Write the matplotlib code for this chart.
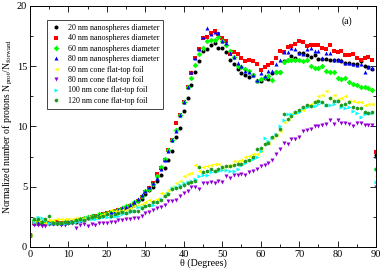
import matplotlib
matplotlib.use("Agg")
import matplotlib.pyplot as plt
from matplotlib.ticker import MultipleLocator

plt.rcParams['font.family'] = ['Liberation Serif', 'DejaVu Serif']
plt.rcParams['mathtext.fontset'] = 'stix'

theta = list(range(0, 91))

s20 = [1.0,
       1.95, 2.0, 1.9, 1.95, 2.0, 2.05, 2.0, 2.0, 2.0, 2.05,
       2.1, 2.1, 2.2, 2.3, 2.4, 2.5, 2.6, 2.6, 2.7, 2.8,
       2.9, 2.9, 3.0, 3.1, 3.2, 3.3, 3.5, 3.8, 4.0, 4.4,
       4.7, 4.95, 5.45, 6.0, 6.55, 7.25, 8.0, 9.1, 9.85, 11.25,
       12.35, 13.45, 14.5, 15.45, 16.25, 16.45, 16.75, 16.9, 16.55, 16.55,
       16.15, 15.5, 15.2, 14.8, 14.4, 14.3, 14.1, 14.3, 13.8, 13.8,
       14.0, 13.95, 14.45, 14.5, 14.55, 15.4, 15.5, 15.85, 15.7, 16.1,
       16.1, 15.95, 15.8, 15.95, 15.6, 15.6, 15.6, 15.55, 15.5, 15.5,
       15.4, 15.3, 15.25, 15.2, 15.2, 15.4, 15.0, 14.9, 14.8, 7.6]

s40 = [1.0,
       2.0, 2.05, 1.95, 1.9, 1.95, 2.0, 2.05, 2.0, 2.0, 2.1,
       2.1, 2.15, 2.2, 2.3, 2.4, 2.5, 2.55, 2.6, 2.7, 2.8,
       2.9, 3.0, 3.05, 3.15, 3.25, 3.4, 3.6, 3.85, 4.15, 4.55,
       4.85, 5.3, 6.05, 6.55, 7.25, 8.05, 8.85, 10.25, 10.95, 12.0,
       13.3, 14.4, 15.7, 16.4, 17.3, 17.4, 17.75, 17.9, 17.65, 17.35,
       17.1, 16.05, 16.2, 16.05, 15.65, 15.45, 15.5, 15.4, 15.2, 14.7,
       14.9, 15.1, 15.25, 15.65, 16.3, 16.2, 16.6, 16.7, 16.85, 17.05,
       17.0, 16.7, 16.8, 16.75, 16.8, 16.5, 16.45, 16.75, 16.3, 16.2,
       16.3, 15.9, 15.95, 16.0, 15.7, 15.55, 15.65, 15.75, 15.55, 7.9]

s60 = [1.0,
       2.2, 2.0, 2.05, 2.0, 1.95, 2.1, 2.0, 2.0, 2.05, 2.1,
       2.1, 2.2, 2.3, 2.4, 2.5, 2.55, 2.6, 2.7, 2.75, 2.85,
       2.9, 3.0, 3.1, 3.25, 3.4, 3.5, 3.7, 3.9, 4.25, 4.65,
       4.8, 5.2, 5.9, 6.65, 7.3, 8.05, 8.85, 9.7, 10.95, 12.0,
       13.3, 14.05, 15.1, 16.05, 16.55, 17.1, 17.2, 17.2, 17.4, 17.05,
       16.8, 16.3, 15.8, 15.0, 14.9, 14.75, 14.6, 14.3, 13.8, 13.9,
       14.1, 14.2, 13.85, 14.5, 14.55, 15.35, 15.55, 15.5, 15.5, 15.5,
       15.4, 15.55, 15.0, 14.85, 14.85, 15.0, 14.6, 14.5, 14.5, 14.0,
       13.95, 14.0, 13.7, 13.55, 13.45, 13.3, 13.3, 13.2, 13.05, 6.5]

s80 = [1.0,
       2.0, 2.0, 2.1, 2.0, 2.1, 2.0, 2.1, 2.0, 2.1, 2.1,
       2.15, 2.2, 2.25, 2.3, 2.45, 2.5, 2.6, 2.65, 2.7, 2.8,
       2.9, 3.0, 3.1, 3.2, 3.3, 3.45, 3.7, 3.95, 4.3, 4.6,
       5.0, 5.3, 5.7, 6.5, 7.25, 8.0, 8.85, 9.65, 10.95, 12.0,
       13.25, 14.5, 15.7, 16.45, 17.4, 18.2, 17.7, 17.85, 17.75, 17.1,
       16.9, 16.1, 15.75, 15.3, 15.0, 14.6, 14.5, 14.3, 13.85, 14.45,
       14.2, 14.6, 14.6, 15.2, 15.5, 16.2, 16.2, 16.5, 16.4, 16.1,
       16.05, 16.4, 16.55, 16.3, 16.3, 15.7, 16.1, 16.1, 15.5, 15.5,
       15.5, 15.3, 15.25, 15.15, 15.1, 15.2, 14.55, 14.9, 14.85, 7.55]

c60 = [1.0,
       2.1, 2.2, 2.1, 2.0, 2.2, 2.2, 2.3, 2.35, 2.3, 2.3,
       2.3, 2.4, 2.3, 2.4, 2.5, 2.5, 2.5, 2.6, 2.7, 2.8,
       3.1, 3.0, 3.0, 3.1, 3.1, 3.2, 3.4, 3.5, 3.6, 3.7,
       3.9, 3.8, 4.0, 4.45, 4.45, 4.7, 5.0, 5.3, 5.5, 5.9,
       6.05, 6.1, 6.8, 6.3, 6.6, 6.75, 6.8, 6.85, 6.9, 6.5,
       6.7, 6.8, 7.1, 7.15, 7.2, 7.5, 7.55, 7.7, 7.75, 8.0,
       8.6, 8.6, 9.0, 9.25, 9.6, 10.4, 10.6, 11.0, 11.1, 11.3,
       11.4, 11.7, 11.9, 12.1, 12.5, 12.6, 12.9, 12.4, 12.6, 12.3,
       12.4, 12.5, 12.1, 12.1, 12.0, 12.0, 11.8, 11.9, 11.9, 5.9]

c80 = [1.0,
       1.85, 1.8, 1.7, 1.7, 1.9, 1.9, 1.9, 1.8, 1.85, 2.0,
       2.0, 1.6, 1.8, 1.9, 1.7, 1.9, 1.8, 1.95, 2.0, 2.0,
       2.05, 2.1, 2.2, 2.25, 2.3, 2.35, 2.4, 2.4, 2.6, 2.8,
       2.9, 3.1, 3.2, 3.3, 3.5, 3.8, 3.85, 3.9, 4.2, 4.5,
       4.6, 4.95, 4.95, 4.8, 5.3, 5.3, 5.35, 5.3, 5.5, 5.35,
       5.9, 5.7, 6.0, 6.0, 6.05, 5.95, 6.2, 6.3, 6.5, 6.7,
       6.8, 7.0, 7.2, 7.7, 8.1, 8.6, 8.5, 8.95, 8.95, 9.1,
       9.6, 9.7, 9.8, 10.05, 10.0, 10.15, 10.2, 10.5, 10.2, 10.55,
       10.3, 10.3, 10.2, 10.0, 10.25, 10.3, 10.1, 10.1, 10.1, 5.0]

c100 = [1.0,
        2.1, 2.5, 2.4, 2.2, 2.0, 2.0, 2.0, 2.0, 1.95, 2.0,
        2.05, 2.1, 2.15, 2.2, 2.5, 2.3, 2.35, 2.4, 2.45, 2.5,
        2.5, 2.6, 2.6, 2.7, 2.8, 2.9, 3.0, 3.3, 3.3, 3.4,
        3.45, 3.5, 3.7, 4.0, 4.2, 4.5, 4.9, 4.95, 5.1, 5.3,
        5.4, 5.5, 5.6, 5.9, 6.0, 6.0, 6.2, 6.3, 6.3, 6.35,
        6.4, 6.3, 6.3, 6.45, 6.8, 7.0, 7.2, 7.3, 7.5, 7.95,
        9.0, 8.8, 9.0, 9.4, 10.0, 10.5, 11.0, 11.0, 11.1, 11.2,
        11.5, 11.6, 11.7, 11.7, 11.9, 12.0, 11.8, 11.8, 11.9, 12.1,
        11.6, 11.5, 11.6, 11.3, 11.1, 10.8, 11.0, 11.1, 11.1, 5.4]

c120 = [1.0,
        2.3, 2.3, 2.1, 2.3, 2.6, 2.0, 2.0, 2.0, 2.05, 2.0,
        2.1, 2.2, 2.3, 2.2, 2.4, 2.5, 2.6, 2.5, 2.6, 2.7,
        2.6, 2.7, 2.8, 2.9, 2.8, 3.0, 3.0, 3.0, 3.2, 3.4,
        3.5, 3.7, 3.7, 3.9, 4.2, 4.4, 4.8, 4.85, 4.95, 5.1,
        5.3, 5.4, 5.5, 6.6, 6.2, 6.3, 6.5, 6.3, 6.5, 6.6,
        6.7, 6.7, 6.8, 6.85, 6.9, 7.1, 7.2, 7.5, 8.1, 8.2,
        8.5, 8.6, 9.1, 9.3, 9.8, 11.0, 10.6, 10.9, 11.2, 11.4,
        11.6, 11.8, 11.7, 12.0, 12.1, 12.0, 11.8, 12.4, 12.1, 12.1,
        11.75, 11.9, 12.0, 11.65, 11.5, 11.5, 11.2, 11.1, 11.2, 6.5]

labels = ["20 nm nanospheres diameter", "40 nm nanospheres diameter",
          "60 nm nanospheres diameter", "80 nm nanospheres diameter",
          "60 nm cone flat-top foil", "80 nm cone flat-top foil",
          "100 nm cone flat-top foil", "120 nm cone flat-top foil"]
series = [s20, s40, s60, s80, c60, c80, c100, c120]
colors = ['black', '#ff0000', '#00ff00', '#0000ff', '#ffff00', '#9400d3', '#00ffff', '#229922']
markers = ['o', 's', 'D', '^', '<', 'v', '>', 'h']

fig = plt.figure(figsize=(3.82, 2.71), dpi=100)
ax = fig.add_axes([0.0785, 0.089, 0.906, 0.889])

for y, lab, c, m in zip(series, labels, colors, markers):
    ax.plot(theta, y, linestyle='none', marker=m, color=c, markersize=2.9,
            markeredgewidth=0, label=lab)

ax.set_xlim(0, 90)
ax.set_ylim(0, 20)
ax.xaxis.set_major_locator(MultipleLocator(10))
ax.xaxis.set_minor_locator(MultipleLocator(5))
ax.yaxis.set_major_locator(MultipleLocator(5))
ax.yaxis.set_minor_locator(MultipleLocator(2.5))
ax.tick_params(which='both', direction='in', top=True, right=True, labelsize=7.5, pad=2)
ax.tick_params(which='major', length=4, width=0.6)
ax.tick_params(which='minor', length=2, width=0.6)
for sp in ax.spines.values():
    sp.set_linewidth(0.7)

ax.set_xlabel(r"θ (Degrees)", fontsize=7.2, labelpad=0)
ax.set_ylabel(r"Normalized number of protons N$_{\mathrm{prot}}$/N$_{\mathrm{forward}}$", fontsize=7, labelpad=1)
ax.text(82.5, 18.75, "(a)", fontsize=7, ha='center', va='center')

leg = ax.legend(loc='upper left', bbox_to_anchor=(0.049, 0.942), fontsize=5.8,
                frameon=True, fancybox=False, edgecolor='#444444', framealpha=1,
                handlelength=1.2, handletextpad=0.9, borderpad=0.5, labelspacing=0.3,
                borderaxespad=0, markerscale=1.0)
leg.get_frame().set_linewidth(0.7)

fig.savefig("out.png", dpi=100)
